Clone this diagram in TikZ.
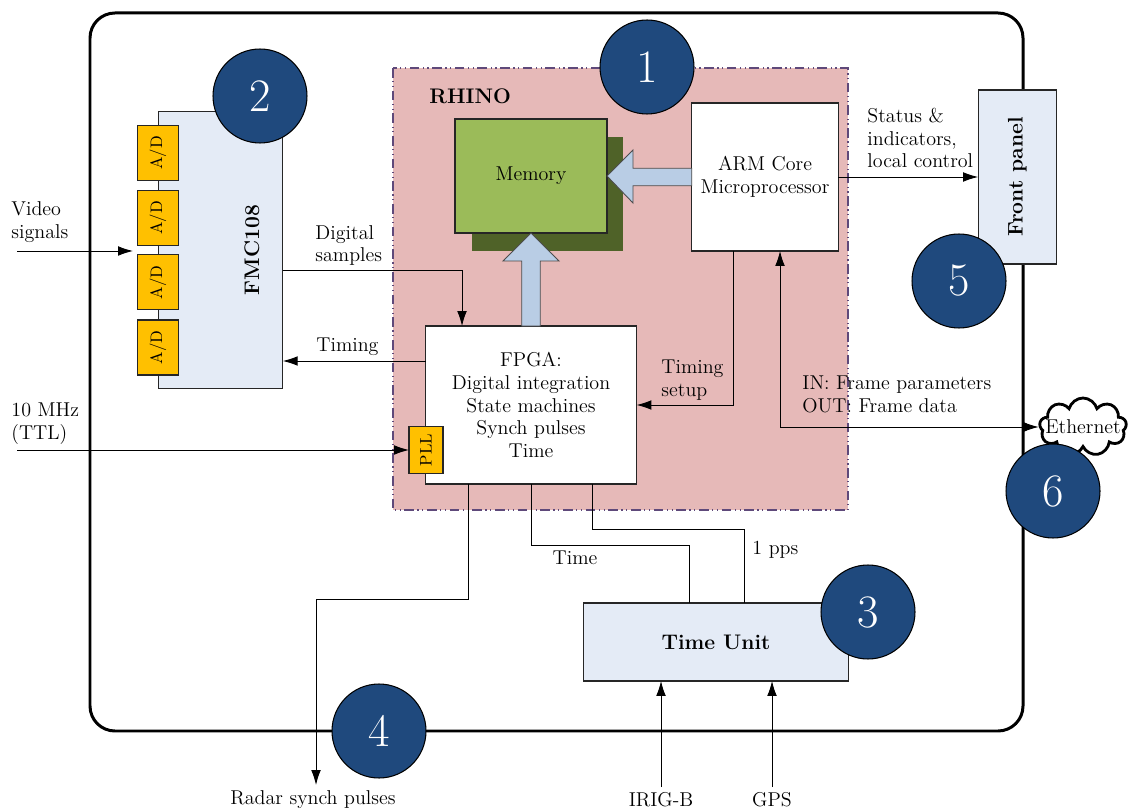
\documentclass[tikz,border=0pt]{standalone}
\usepackage{tikz}
\usetikzlibrary{arrows.meta,shapes.symbols,calc}

\definecolor{rhinopink}{HTML}{E6B9B8}
\definecolor{rhinoedge}{HTML}{5F497A}
\definecolor{memgreen}{HTML}{9BBB59}
\definecolor{memshadow}{HTML}{4F6228}
\definecolor{paleblue}{HTML}{E4EBF6}
\definecolor{arrowblue}{HTML}{B9CDE5}
\definecolor{adyellow}{HTML}{FFC000}
\definecolor{badgeblue}{HTML}{1F497D}

\tikzset{
  blk/.style={draw=black!85,line width=.6pt,inner sep=0pt,outer sep=0pt},
  adbox/.style={blk,fill=adyellow,minimum width=.81cm,minimum height=1.1cm,font=\fontsize{9.5}{10}\selectfont},
  bold/.style={font=\fontsize{12}{14}\selectfont\bfseries},
  badge/.style={circle,draw=black,line width=.6pt,fill=badgeblue,text=white,minimum size=1.88cm,inner sep=0pt,font=\fontsize{26.5}{26.5}\selectfont},
  bigarrow/.style={fill=arrowblue,draw=black!70,line width=.5pt},
  arr/.style={-{Latex[length=8.5pt,width=5.5pt]}},
  lbl/.style={align=left,anchor=west,inner sep=0pt},
}

\begin{document}
\begin{tikzpicture}[x=0.02cm,y=-0.02cm,line width=.5pt,font=\fontsize{11.4}{13}\selectfont]
\useasboundingbox (0,0) rectangle (1128,810);
% outer frame
\draw[line width=1.7pt,rounded corners=0.5cm] (90,13) rectangle (1023,731);
% RHINO board
\draw[rhinoedge,fill=rhinopink,line width=1pt,dash pattern=on 5.5pt off 2pt on .7pt off 2pt on .7pt off 2pt] (393,68) rectangle (848,510);
\node[bold,lbl] (rhino) at (429,96) {RHINO};
\node[fill=memshadow,minimum width=3.02cm,minimum height=2.28cm,inner sep=0pt] (memshade) at (547.5,194) {};
\node[blk,fill=memgreen,minimum width=3.04cm,minimum height=2.28cm] (mem) at (531,176) {Memory};
\node[blk,fill=white,minimum width=2.93cm,minimum height=2.96cm,align=center] (arm) at (765,177) {ARM Core\\Microprocessor};
\node[blk,fill=white,minimum width=4.22cm,minimum height=3.16cm,align=center] (fpga) at (531,405) {FPGA:\\Digital integration\\State machines\\Synch pulses\\Time};
\node[adbox,minimum width=.68cm,minimum height=.93cm] (pll) at (426,450) {\rotatebox{90}{PLL}};
% wide arrows
\draw[bigarrow] ($(arm.west)+(0,-8.7)$) -| (633,150) -- (mem.east) -- (633,203) |- ($(arm.west)+(0,8.7)$) -- cycle;
\draw[bigarrow] ($(fpga.north)+(-9.3,0)$) |- (503,261) -- (mem.south) -- (559,261) -| ($(fpga.north)+(9.3,0)$) -- cycle;
% FMC card
\node[blk,fill=paleblue,minimum width=2.49cm,minimum height=5.53cm] (fmc) at (220.5,250.2) {};
\node[bold] (fmclbl) at (252,250) {\rotatebox{90}{FMC108}};
\foreach \i/\y in {1/153,2/218,3/282.3,4/347.5}
  \node[adbox] (ad\i) at (158,\y) {\rotatebox{90}{A/D}};
% front panel, time unit
\node[blk,fill=paleblue,minimum width=1.57cm,minimum height=3.48cm,bold] (fp) at (1017.3,177) {\rotatebox{90}{Front panel}};
\node[blk,fill=paleblue,minimum width=5.29cm,minimum height=1.56cm,bold] (tu) at (716,642) {Time Unit};
\node[cloud,draw,line width=1.6pt,cloud puffs=9,minimum width=1.74cm,minimum height=1.16cm,inner sep=0pt,fill=white] (eth) at (1083,427) {};
\node (ethlbl) at (eth.center) {Ethernet};
% free ends
\coordinate (vidin) at (17,251);
\coordinate (clkin) at (17,450);
\coordinate (radarout) at (316,785);
\coordinate (irig) at (661,787);
\coordinate (gps) at (772,787);
% connectors
\draw[arr,shorten >=2.7pt] (vidin) -- (vidin -| ad2.west);
\draw[arr] (clkin) -- (pll.west);
\draw[arr] (fmc.east |- 0,270) -| (fpga.north -| 462,0);
\draw[arr] (fpga.west |- 0,361) -- (fmc.east |- 0,361);
\draw[arr] (arm.east) -- (fp.west |- arm.east);
\draw[arr] (arm.south -| 733,0) |- (fpga.east);
\draw[{Latex[length=8.5pt,width=5.5pt]}-{Latex[length=8.5pt,width=5.5pt]}] (arm.south -| 780,0) |- (eth.west);
\draw[arr] (fpga.south -| 468,0) |- (316,599) -- (radarout);
\draw (fpga.south -| 531,0) |- (689,545) -- (tu.north -| 689,0);
\draw (fpga.south -| 592,0) |- (744,529) -- (tu.north -| 744,0);
\draw[arr] (irig) -- (tu.south -| irig);
\draw[arr] (gps) -- (tu.south -| gps);
% labels
\node[lbl] (vidlbl) at (11,222.5) {Video\\signals};
\node[lbl] (clklbl) at (11,423.5) {10 MHz\\(TTL)};
\node[lbl] (smplbl) at (315,245.5) {Digital\\samples};
\node[lbl] (timlbl) at (316,347) {Timing};
\node[lbl] (setlbl) at (661,380) {Timing\\setup};
\node[lbl] (iolbl) at (802,394.5) {IN: Frame parameters\\OUT: Frame data};
\node[lbl] (statlbl) at (867,138) {Status \&\\indicators,\\local control};
\node (timelbl) at (575,558) {Time};
\node[lbl] (ppslbl) at (752,550) {1 pps};
\node (radlbl) at (313,800) {Radar synch pulses};
\node (iriglbl) at (661,800) {IRIG-B};
\node (gpslbl) at (772,800) {GPS};
% numbered badges
\node[badge] (b1) at (647,67) {1};
\node[badge] (b2) at (260,96) {2};
\node[badge] (b3) at (868,612) {3};
\node[badge] (b4) at (379,731) {4};
\node[badge] (b5) at (959,281) {5};
\node[badge] (b6) at (1053,491) {6};
\end{tikzpicture}
\end{document}
